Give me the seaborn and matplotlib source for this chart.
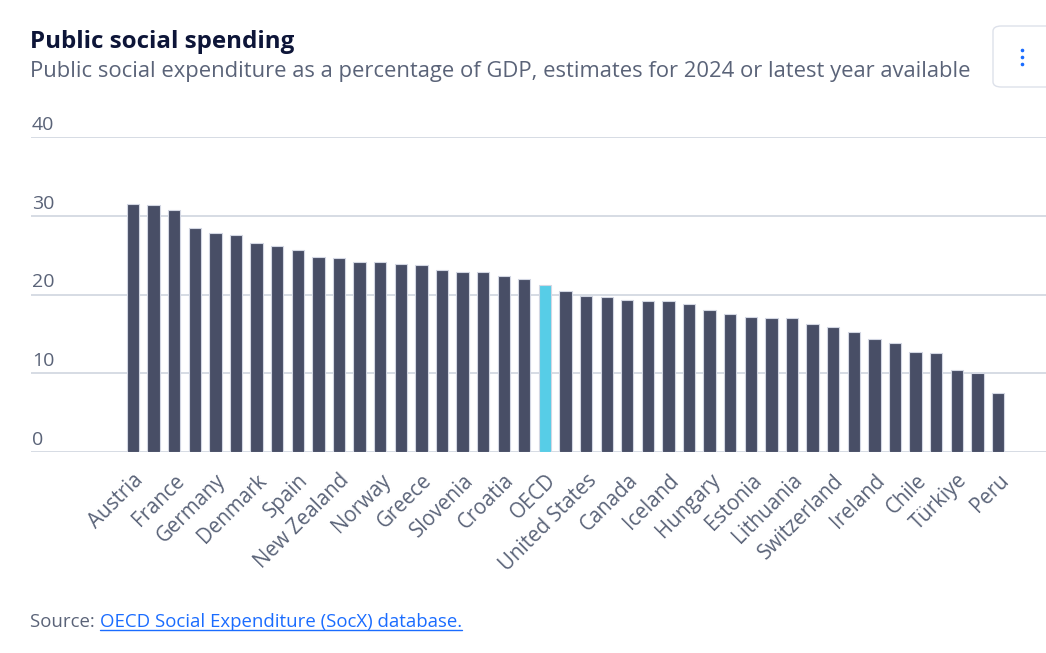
import numpy as np
import pandas as pd
import seaborn as sns
import matplotlib.pyplot as plt
from matplotlib.patches import FancyBboxPatch
from matplotlib.lines import Line2D

# values (% of GDP)
countries = [
    'Austria', 'Finland', 'France', 'Italy', 'Germany', 'Belgium', 'Denmark',
    'Sweden', 'Spain', 'Japan', 'New Zealand', 'Portugal', 'Norway', 'Poland',
    'Greece', 'Luxembourg', 'Slovenia', 'United Kingdom', 'Croatia', 'Czechia',
    'OECD', 'Slovak Republic', 'United States', 'Netherlands', 'Canada',
    'Australia', 'Iceland', 'Latvia', 'Hungary', 'Israel', 'Estonia',
    'Bulgaria', 'Lithuania', 'Romania', 'Switzerland', 'Korea', 'Ireland',
    'Colombia', 'Chile', 'Costa Rica', 'Türkiye', 'Mexico', 'Peru',
]
spending = [
    31.5, 31.4, 30.7, 28.5, 27.8, 27.5, 26.5, 26.1, 25.7, 24.7, 24.6, 24.1,
    24.1, 23.9, 23.7, 23.1, 22.9, 22.9, 22.4, 22.0,
    21.2,
    20.5, 19.8, 19.7, 19.3, 19.2, 19.2, 18.8, 18.0, 17.5, 17.1, 17.0, 17.0,
    16.3, 15.9, 15.3, 14.3, 13.9, 12.7, 12.6, 10.4, 10.0, 7.5,
]
y_ticks = [0, 10, 20, 30, 40]

title = 'Public social spending'
subtitle = 'Public social expenditure as a percentage of GDP, estimates for 2024 or latest year available'

navy = '#434b6b'
cyan = '#3fdcff'
grid_col = '#cfd5df'
text_col = '#5a6378'

df = pd.DataFrame({'country': countries, 'value': spending})
df['group'] = np.where(df['country'] == 'OECD', 'oecd', 'other')

sns.set_style('white')
plt.rcParams['font.family'] = ['Open Sans', 'Noto Sans', 'DejaVu Sans']

fig = plt.figure(figsize=(10.46, 6.53), dpi=100)
ax = fig.add_axes([31 / 1046, (653 - 452) / 653, 1 - 31 / 1046, (452 - 137) / 653])

sns.barplot(data=df, x='country', y='value', hue='group',
            palette={'oecd': cyan, 'other': navy}, legend=False,
            width=0.6, edgecolor='#d3d7e3', linewidth=0.8, ax=ax, zorder=3)

ax.set_ylim(0, 40)
step = (998 - 133) / 42
ax.set_xlim(-(133 - 31) / step, 42 + (1046 - 998) / step)

for t in y_ticks:
    ax.axhline(t, color=grid_col, lw=1.2, zorder=1)
    ax.text(0.001, t + 1.55, str(t), transform=ax.get_yaxis_transform(),
            ha='left', va='center', fontsize=14, color=text_col)
ax.set_yticks([])

pos = list(range(0, len(countries), 2))
ax.set_xticks(pos)
ax.set_xticklabels([countries[i] for i in pos], rotation=45, ha='right',
                   rotation_mode='anchor', fontsize=14.8, color=text_col)
ax.tick_params(axis='x', length=0, pad=13)
ax.set_xlabel('')
ax.set_ylabel('')
sns.despine(ax=ax, left=True, bottom=True, top=True, right=True)

fig.text(30 / 1046, 1 - 42 / 653, title, fontsize=17.4, fontweight='bold',
         color='#0d1538', va='center', ha='left')
fig.text(30 / 1046, 1 - 71 / 653, subtitle, fontsize=15.8, color=text_col,
         va='center', ha='left')

# source line with link-styled part
src = fig.text(30 / 1046, 1 - 622 / 653, 'Source: ', fontsize=13.4,
               color=text_col, va='center', ha='left')
fig.canvas.draw()
bb = src.get_window_extent()
link = fig.text(bb.x1 / 1046, 1 - 622 / 653, 'OECD Social Expenditure (SocX) database.',
                fontsize=13.4, color='#1a6cff', va='center', ha='left')
fig.canvas.draw()
lb = link.get_window_extent()
fig.add_artist(Line2D([lb.x0 / 1046, lb.x1 / 1046], [(lb.y0 + 1) / 653] * 2,
                      color='#1a6cff', lw=1))

# menu button in the top right corner
fig.add_artist(FancyBboxPatch((993 / 1046, 1 - 87 / 653), 70 / 1046, 61 / 653,
                              boxstyle='round,pad=0,rounding_size=0.008',
                              transform=fig.transFigure, fc='white',
                              ec='#dde1ea', lw=1))
fig.add_artist(Line2D([1022 / 1046] * 3, [1 - 50 / 653, 1 - 57 / 653, 1 - 64 / 653],
                      ls='none', marker='o', ms=1.6, color='#1a6cff'))

fig.savefig('out.png', dpi=100)
